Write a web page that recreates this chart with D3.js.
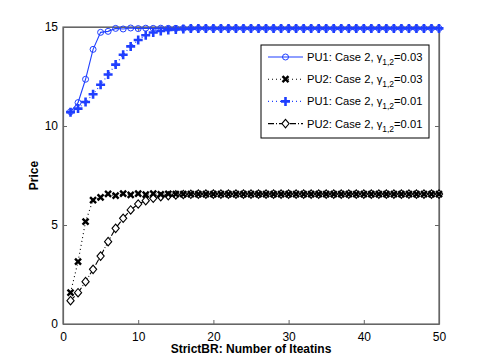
<!DOCTYPE html>
<html>
<head>
<meta charset="utf-8">
<script src="https://cdn.jsdelivr.net/npm/d3@7"></script>
<style>
  body { margin: 0; background: #fff; }
  text { font-family: "Liberation Sans", Arial, sans-serif; }
</style>
</head>
<body>
<div id="chart"></div>
<script>
// iterations 1..50
const iters = d3.range(1, 51);

// PU1: Case 2, gamma=0.03 (circles, solid)
const pu1Fast = [10.72, 11.18, 12.36, 13.87, 14.73, 14.78, 14.93, 14.9, 14.95, 14.92,
  14.94, 14.93, 14.94, 14.93, 14.93, 14.93, 14.93, 14.93, 14.93, 14.93,
  14.93, 14.93, 14.93, 14.93, 14.93, 14.93, 14.93, 14.93, 14.93, 14.93,
  14.93, 14.93, 14.93, 14.93, 14.93, 14.93, 14.93, 14.93, 14.93, 14.93,
  14.93, 14.93, 14.93, 14.93, 14.93, 14.93, 14.93, 14.93, 14.93, 14.93];
// PU2: Case 2, gamma=0.03 (x, dotted)
const pu2Fast = [1.58, 3.15, 5.17, 6.26, 6.4, 6.57, 6.48, 6.58, 6.52, 6.58,
  6.53, 6.58, 6.55, 6.57, 6.56, 6.56, 6.56, 6.56, 6.56, 6.56,
  6.56, 6.56, 6.56, 6.56, 6.56, 6.56, 6.56, 6.56, 6.56, 6.56,
  6.56, 6.56, 6.56, 6.56, 6.56, 6.56, 6.56, 6.56, 6.56, 6.56,
  6.56, 6.56, 6.56, 6.56, 6.56, 6.56, 6.56, 6.56, 6.56, 6.56];
// PU1: Case 2, gamma=0.01 (plus, dotted)
const pu1Slow = [10.7, 10.88, 11.21, 11.6, 12.08, 12.6, 13.1, 13.6, 14.02, 14.34,
  14.58, 14.72, 14.8, 14.85, 14.88, 14.9, 14.92, 14.93, 14.93, 14.93,
  14.93, 14.93, 14.93, 14.93, 14.93, 14.93, 14.93, 14.93, 14.93, 14.93,
  14.93, 14.93, 14.93, 14.93, 14.93, 14.93, 14.93, 14.93, 14.93, 14.93,
  14.93, 14.93, 14.93, 14.93, 14.93, 14.93, 14.93, 14.93, 14.93, 14.93];
// PU2: Case 2, gamma=0.01 (diamond, dash-dot)
const pu2Slow = [1.18, 1.58, 2.14, 2.76, 3.43, 4.16, 4.83, 5.34, 5.76, 6.06,
  6.23, 6.35, 6.43, 6.48, 6.52, 6.54, 6.55, 6.56, 6.56, 6.56,
  6.56, 6.56, 6.56, 6.56, 6.56, 6.56, 6.56, 6.56, 6.56, 6.56,
  6.56, 6.56, 6.56, 6.56, 6.56, 6.56, 6.56, 6.56, 6.56, 6.56,
  6.56, 6.56, 6.56, 6.56, 6.56, 6.56, 6.56, 6.56, 6.56, 6.56];

const xTicks = [0, 10, 20, 30, 40, 50];
const yTicks = [0, 5, 10, 15];
const legendLabels = ["PU1: Case 2, ", "PU2: Case 2, ", "PU1: Case 2, ", "PU2: Case 2, "];
const legendGammas = ["0.03", "0.03", "0.01", "0.01"];

const blue = "#1f3fff";
const series = [
  { values: pu1Fast, color: blue, dash: null, marker: "circle" },
  { values: pu2Fast, color: "#000", dash: "1,3", marker: "x" },
  { values: pu1Slow, color: blue, dash: "1,3", marker: "plus" },
  { values: pu2Slow, color: "#000", dash: "6,2,1,2", marker: "diamond" }
];

const width = 485, height = 364;
const margin = { top: 27, right: 46, bottom: 40, left: 63 };
const w = width - margin.left - margin.right;
const h = height - margin.top - margin.bottom;

const svg = d3.select("#chart").append("svg")
  .attr("width", width)
  .attr("height", height);

const g = svg.append("g")
  .attr("transform", `translate(${margin.left},${margin.top})`);

const x = d3.scaleLinear().domain([0, 50]).range([0, w]);
const y = d3.scaleLinear().domain([0, 15]).range([h, 0]);

const axisColor = "#666";

// box
g.append("rect")
  .attr("width", w).attr("height", h)
  .attr("fill", "none").attr("stroke", axisColor).attr("stroke-width", 1.2);

g.append("g").attr("transform", `translate(0,${h})`)
  .call(d3.axisBottom(x).tickValues(xTicks).tickSizeInner(-4).tickSizeOuter(0).tickPadding(8));
g.append("g")
  .call(d3.axisLeft(y).tickValues(yTicks).tickSizeInner(-4).tickSizeOuter(0).tickPadding(5));
// top and right ticks
g.append("g").call(d3.axisTop(x).tickValues(xTicks).tickSizeInner(-4).tickSizeOuter(0).tickFormat(""));
g.append("g").attr("transform", `translate(${w},0)`)
  .call(d3.axisRight(y).tickValues(yTicks).tickSizeInner(-4).tickSizeOuter(0).tickFormat(""));

g.selectAll(".domain").attr("stroke", axisColor).attr("stroke-width", 1.2);
g.selectAll(".tick line").attr("stroke", axisColor);
g.selectAll(".tick text").attr("font-size", 12).attr("fill", "#000")
  .attr("font-family", "Liberation Sans, Arial, sans-serif");

function drawMarker(sel, type, color) {
  if (type === "circle") {
    sel.append("circle").attr("r", 3).attr("fill", "none")
      .attr("stroke", color).attr("stroke-width", 1);
  } else if (type === "x") {
    sel.append("path").attr("d", "M-3,-3L3,3M-3,3L3,-3")
      .attr("stroke", color).attr("stroke-width", 2.4).attr("fill", "none");
  } else if (type === "plus") {
    sel.append("path").attr("d", "M-4.5,0L4.5,0M0,-4.5L0,4.5")
      .attr("stroke", color).attr("stroke-width", 2.6).attr("fill", "none");
  } else if (type === "diamond") {
    sel.append("path").attr("d", "M0,-4.2L3.6,0L0,4.2L-3.6,0Z")
      .attr("stroke", color).attr("stroke-width", 1.1).attr("fill", "#fff");
  }
}

const line = d3.line().x((d, i) => x(iters[i])).y(d => y(d));

// draw in reverse order so PU1 solid is on top
series.slice().reverse().forEach(s => {
  g.append("path").datum(s.values)
    .attr("d", line)
    .attr("fill", "none")
    .attr("stroke", s.color)
    .attr("stroke-width", 1.1)
    .attr("stroke-dasharray", s.dash);
  g.append("g").selectAll("g")
    .data(s.values)
    .enter().append("g")
    .attr("transform", (d, i) => `translate(${x(iters[i])},${y(d)})`)
    .each(function() { drawMarker(d3.select(this), s.marker, s.color); });
});

// legend
const legend = svg.append("g").attr("transform", "translate(261,45)");
legend.append("rect").attr("width", 168).attr("height", 93)
  .attr("fill", "#fff").attr("stroke", "#000").attr("stroke-width", 1);

series.forEach((s, i) => {
  const row = legend.append("g").attr("transform", `translate(0,${12 + i * 22.2})`);
  row.append("line").attr("x1", 7).attr("x2", 42).attr("y1", 0).attr("y2", 0)
    .attr("stroke", s.color).attr("stroke-width", 1.1)
    .attr("stroke-dasharray", s.dash);
  drawMarker(row.append("g").attr("transform", "translate(24.5,0)"), s.marker, s.color);
  const t = row.append("text").attr("x", 46).attr("y", 4)
    .attr("font-size", 11.2).attr("fill", "#000");
  t.append("tspan").text(legendLabels[i] + "\u03b3");
  t.append("tspan").attr("font-size", 8.5).attr("dy", 4).text("1,2");
  t.append("tspan").attr("dy", -4).text("=" + legendGammas[i]);
});

// axis labels
svg.append("text")
  .attr("x", margin.left + w / 2).attr("y", 353)
  .attr("text-anchor", "middle").attr("font-size", 12).attr("font-weight", "bold")
  .text("StrictBR: Number of Iteatins");

svg.append("text")
  .attr("transform", `translate(38,${margin.top + h / 2}) rotate(-90)`)
  .attr("text-anchor", "middle").attr("font-size", 12).attr("font-weight", "bold")
  .text("Price");
</script>
</body>
</html>
